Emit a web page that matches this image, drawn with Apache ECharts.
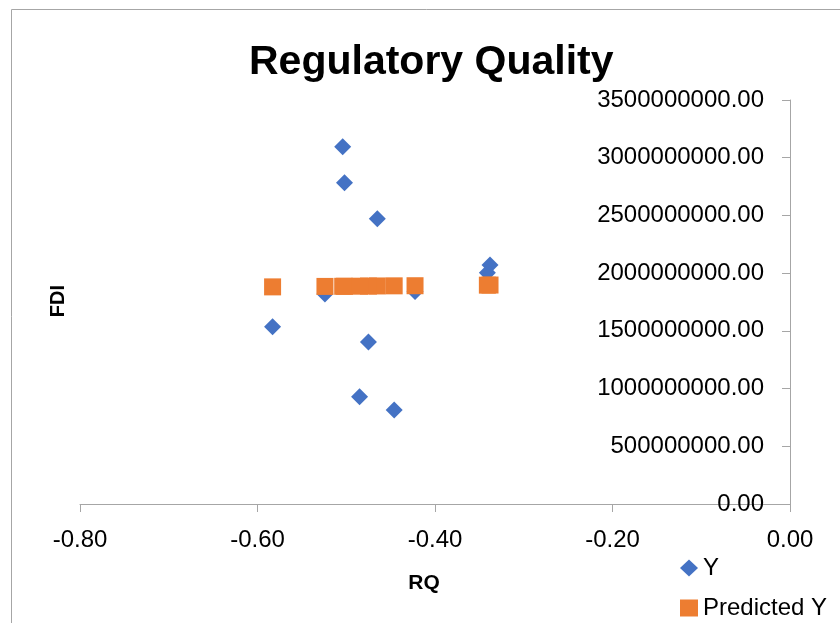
<!DOCTYPE html>
<html>
<head>
<meta charset="utf-8">
<script src="https://cdn.jsdelivr.net/npm/echarts@6/dist/echarts.min.js"></script>
<style>html,body{margin:0;padding:0;background:#fff;}#c{width:840px;height:623px;}</style>
</head>
<body>
<div id="c"></div>
<script>
// RQ values (x) and observed FDI (Y)
const rqValues = [-0.504, -0.502, -0.465, -0.338, -0.341, -0.524, -0.4225, -0.583, -0.475, -0.485, -0.446];
const fdiY = [3096000000, 2784000000, 2472000000, 2071000000, 2004000000, 1820000000, 1840000000, 1536000000, 1404000000, 930000000, 815000000];
const fdiPredicted = [1886000000, 1886000000, 1889000000, 1897000000, 1896000000, 1885000000, 1891000000, 1881000000, 1888000000, 1887000000, 1890000000];
const xTicks = { min: -0.8, max: 0, interval: 0.2 };
const yTicks = { min: 0, max: 3500000000, interval: 500000000 };

const yData = rqValues.map((x, i) => [x, fdiY[i]]);
const pData = rqValues.map((x, i) => [x, fdiPredicted[i]]);

const FONT = 'Liberation Sans';
const legendText = { fontFamily: FONT, fontSize: 24, color: '#000' };
const chart = echarts.init(document.getElementById('c'));
chart.setOption({
  backgroundColor: '#fff',
  animation: false,
  textStyle: { fontFamily: FONT },
  title: {
    text: 'Regulatory Quality',
    left: 244, top: 37,
    textStyle: { fontFamily: FONT, fontWeight: 'bold', fontSize: 41, color: '#000' }
  },
  graphic: [{
    type: 'rect', silent: true,
    shape: { x: 11.5, y: 9.5, width: 1000, height: 1000 },
    style: { fill: 'none', stroke: '#A6A6A6', lineWidth: 1 }
  }, {
    type: 'text', silent: true, left: 48, top: 285, rotation: Math.PI / 2,
    style: { text: 'FDI', fontFamily: FONT, fontWeight: 'bold', fontSize: 20, fill: '#000' }
  }],
  grid: { left: 80, right: 50, top: 100, bottom: 119, outerBoundsMode: 'none' },
  legend: [{
    left: 675, top: 551,
    itemWidth: 18, itemHeight: 17,
    textStyle: legendText,
    data: [{ name: 'Y', icon: 'diamond' }]
  }, {
    left: 675, top: 591,
    itemWidth: 18, itemHeight: 17,
    textStyle: legendText,
    data: [{ name: 'Predicted Y', icon: 'rect' }]
  }],
  xAxis: {
    type: 'value', min: xTicks.min, max: xTicks.max, interval: xTicks.interval,
    name: 'RQ', nameLocation: 'middle', nameGap: 69,
    nameTextStyle: { fontFamily: FONT, fontWeight: 'bold', fontSize: 21, color: '#000', padding: [0, 22, 0, 0] },
    axisLine: { onZero: false, lineStyle: { color: '#A6A6A6', width: 1 } },
    axisTick: { show: true, length: 8, lineStyle: { color: '#A6A6A6' } },
    splitLine: { show: false },
    axisLabel: { fontFamily: FONT, fontSize: 24, color: '#000', margin: 24, formatter: v => v.toFixed(2) }
  },
  yAxis: {
    type: 'value', position: 'right', min: yTicks.min, max: yTicks.max, interval: yTicks.interval,
    axisLine: { show: true, onZero: false, lineStyle: { color: '#A6A6A6', width: 1 } },
    axisTick: { show: true, inside: true, length: 8, lineStyle: { color: '#A6A6A6' } },
    splitLine: { show: false },
    axisLabel: { inside: true, fontFamily: FONT, fontSize: 24, color: '#000', margin: 26, formatter: v => v.toFixed(2) }
  },
  series: [
    { name: 'Y', type: 'scatter', symbol: 'diamond', symbolSize: 17, data: yData,
      itemStyle: { color: '#4472C4', opacity: 1 } },
    { name: 'Predicted Y', type: 'scatter', symbol: 'rect', symbolSize: 17, data: pData,
      itemStyle: { color: '#ED7D31', opacity: 1 } }
  ]
});
</script>
</body>
</html>
